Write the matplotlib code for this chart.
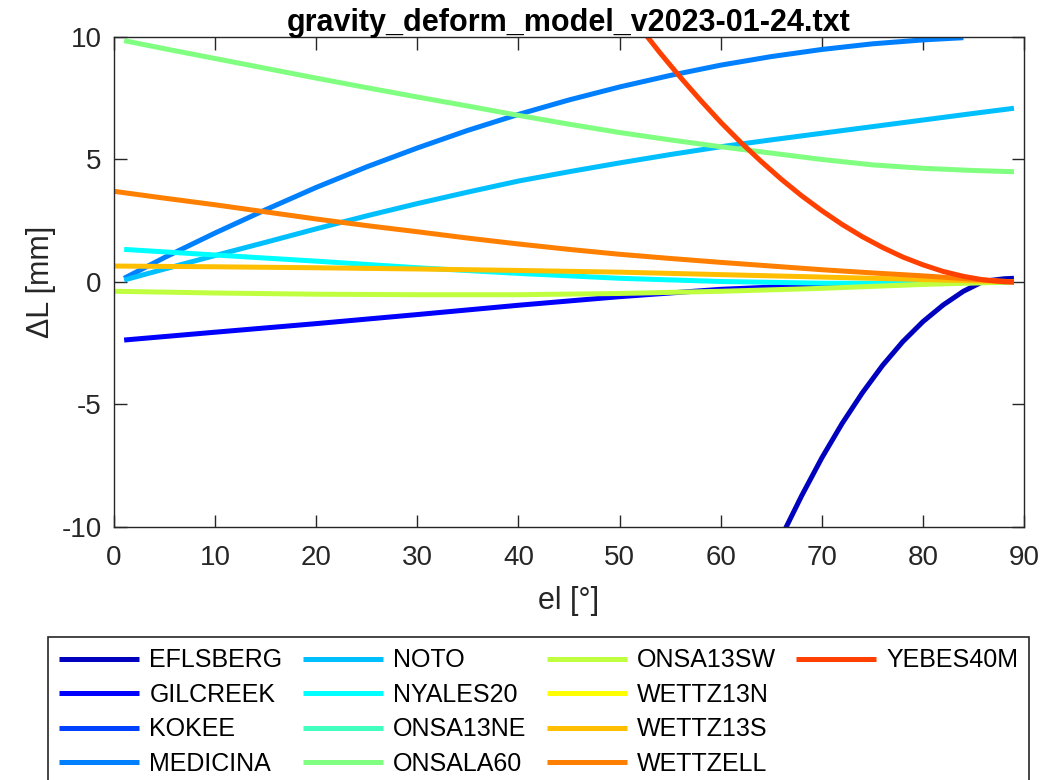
import numpy as np
import matplotlib
matplotlib.use('Agg')
import matplotlib.pyplot as plt
from matplotlib.lines import Line2D

plt.rcParams['font.family'] = ['Liberation Sans', 'DejaVu Sans']
plt.rcParams['axes.unicode_minus'] = False

# station names in legend order
stations = ['EFLSBERG', 'GILCREEK', 'KOKEE', 'MEDICINA', 'NOTO', 'NYALES20',
            'ONSA13NE', 'ONSALA60', 'ONSA13SW', 'WETTZ13N', 'WETTZ13S',
            'WETTZELL', 'YEBES40M']

# elevation [deg] and delta L [mm] per station
el_eflsberg = [60, 62, 64, 66, 68, 70, 72, 74, 76, 78, 80, 82, 84, 86, 88, 89]
dl_eflsberg = [-16.3, -14.2, -12.2, -10.4, -8.73, -7.18, -5.78, -4.53, -3.41,
               -2.44, -1.62, -0.94, -0.38, 0.03, 0.13, 0.15]

el_gilcreek = [1, 10, 20, 30, 40, 50, 60, 70, 80, 89]
dl_gilcreek = [-2.37, -2.05, -1.7, -1.33, -0.95, -0.6, -0.3, -0.12, -0.03, 0.0]

el_kokee = []
dl_kokee = []

el_medicina = [1, 5, 10, 15, 20, 25, 30, 35, 40, 45, 50, 55, 60, 65, 70, 75, 80, 84]
dl_medicina = [0.15, 1.0, 2.0, 2.95, 3.86, 4.7, 5.47, 6.19, 6.84, 7.43, 7.96,
               8.43, 8.85, 9.2, 9.49, 9.72, 9.88, 9.97]

el_noto = [1, 5, 10, 15, 20, 25, 30, 35, 40, 45, 50, 55, 60, 65, 70, 75, 80, 85, 89]
dl_noto = [0.08, 0.53, 1.08, 1.62, 2.17, 2.7, 3.2, 3.67, 4.12, 4.5, 4.86, 5.2,
           5.52, 5.8, 6.07, 6.34, 6.61, 6.88, 7.09]

el_nyales20 = [1, 10, 20, 30, 40, 50, 60, 70, 80, 89]
dl_nyales20 = [1.33, 1.1, 0.85, 0.58, 0.35, 0.15, 0.02, -0.05, -0.05, 0.0]

el_onsa13ne = []
dl_onsa13ne = []

el_onsala60 = [1, 5, 10, 15, 20, 25, 30, 35, 40, 45, 50, 55, 60, 65, 70, 75, 80, 85, 89]
dl_onsala60 = [9.85, 9.52, 9.12, 8.72, 8.32, 7.93, 7.55, 7.18, 6.8, 6.44, 6.1,
               5.8, 5.52, 5.26, 5.0, 4.78, 4.64, 4.55, 4.5]

el_onsa13sw = [0, 10, 20, 30, 40, 50, 60, 70, 80, 89]
dl_onsa13sw = [-0.38, -0.45, -0.5, -0.52, -0.52, -0.47, -0.38, -0.26, -0.1, 0.0]

el_wettz13n = []
dl_wettz13n = []

el_wettz13s = [0, 10, 20, 30, 40, 50, 60, 70, 80, 89]
dl_wettz13s = [0.65, 0.62, 0.58, 0.53, 0.47, 0.4, 0.3, 0.2, 0.1, 0.0]

el_wettzell = [0, 5, 10, 15, 20, 25, 30, 35, 40, 45, 50, 55, 60, 65, 70, 75, 80, 85, 89]
dl_wettzell = [3.7, 3.42, 3.15, 2.86, 2.57, 2.3, 2.05, 1.79, 1.55, 1.33, 1.13,
               0.96, 0.8, 0.65, 0.5, 0.37, 0.25, 0.11, 0.0]

el_yebes40m = [50, 52, 54, 56, 58, 60, 62, 64, 66, 68, 70, 72, 74, 76, 78, 80,
               82, 84, 86, 88, 89]
dl_yebes40m = [11.5, 10.4, 9.35, 8.36, 7.42, 6.52, 5.69, 4.92, 4.19, 3.52, 2.91,
               2.35, 1.85, 1.41, 1.02, 0.7, 0.43, 0.23, 0.085, 0.01, 0.0]

el_all = [el_eflsberg, el_gilcreek, el_kokee, el_medicina, el_noto, el_nyales20,
          el_onsa13ne, el_onsala60, el_onsa13sw, el_wettz13n, el_wettz13s,
          el_wettzell, el_yebes40m]
dl_all = [dl_eflsberg, dl_gilcreek, dl_kokee, dl_medicina, dl_noto, dl_nyales20,
          dl_onsa13ne, dl_onsala60, dl_onsa13sw, dl_wettz13n, dl_wettz13s,
          dl_wettzell, dl_yebes40m]

# first 13 colours of a 16 step jet map
colors = [(0, 0, .75), (0, 0, 1), (0, .25, 1), (0, .5, 1), (0, .75, 1), (0, 1, 1),
          (.25, 1, .75), (.5, 1, .5), (.75, 1, .25), (1, 1, 0), (1, .75, 0),
          (1, .5, 0), (1, .25, 0)]

fig = plt.figure(figsize=(10.53, 7.8), dpi=100)
ax = fig.add_axes([0.1083, 0.3244, 0.8642, 0.6282])

handles = []
for name, el, dl, c in zip(stations, el_all, dl_all, colors):
    h, = ax.plot(el, dl, color=c, lw=3.6, label=name, solid_capstyle='butt')
    handles.append(h)

ax.set_xlim(0, 90)
ax.set_ylim(-10, 10)
ax.set_xticks(np.arange(0, 91, 10))
ax.set_yticks([-10, -5, 0, 5, 10])
ax.tick_params(direction='in', length=9, width=1, top=True, right=True,
               labelsize=20, colors='0.15', labelcolor='0.15')
ax.tick_params(axis='x', pad=13)
ax.tick_params(axis='y', pad=9)
for sp in ax.spines.values():
    sp.set_color('0.15')
    sp.set_linewidth(1)

ax.set_xlabel('el [°]', fontsize=22, color='0.15', labelpad=11)
ax.set_ylabel('ΔL [mm]', fontsize=22, color='0.15', labelpad=4)
ax.set_title('gravity_deform_model_v2023-01-24.txt', fontsize=22,
             fontweight='bold', pad=4)

# pad to 16 entries so the columns fill 4/4/4/1 like the original
blank = [Line2D([], [], linestyle='none') for _ in range(3)]
leg = fig.legend(handles + blank, stations + ['', '', ''],
                 loc='upper left', bbox_to_anchor=(0.0456, 0.1733, 0.932, 0.01),
                 mode='expand', ncol=4, fontsize=18, handlelength=3.2,
                 handletextpad=0.4, labelspacing=0.42, borderpad=0.45,
                 borderaxespad=0, fancybox=False, framealpha=1, edgecolor='0.15')
leg.get_frame().set_linewidth(1.2)

fig.savefig('out.png', dpi=100)
